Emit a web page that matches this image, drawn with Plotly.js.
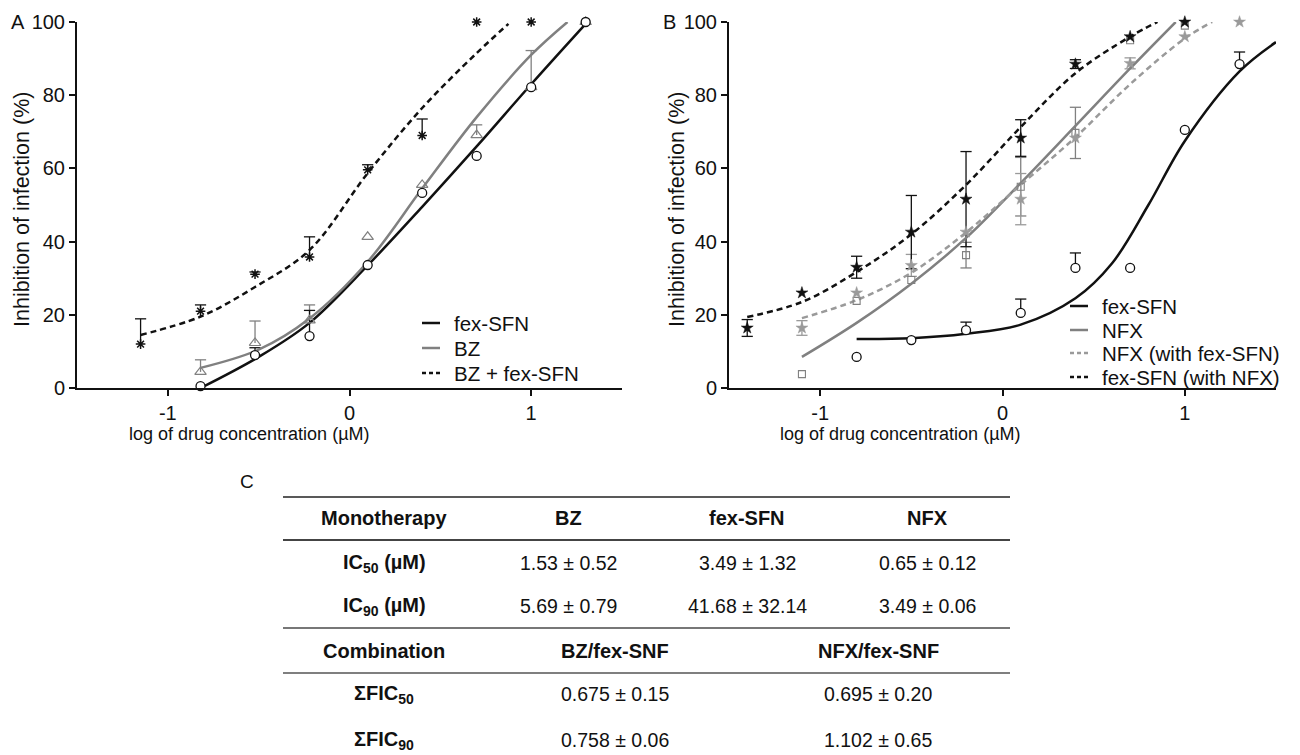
<!DOCTYPE html>
<html>
<head>
<meta charset="utf-8">
<script src="https://cdn.plot.ly/plotly-3.0.1.min.js"></script>
<style>html,body{margin:0;padding:0;background:#fff;}#chart{width:1300px;height:755px;}</style>
</head>
<body>
<div id="chart"></div>
<script>
// ---------- Panel A data ----------
const xA = [-1.15, -0.82, -0.52, -0.22, 0.1, 0.4, 0.7, 1.0, 1.3];
const fexA = [null, 0.5, 9.0, 14.2, 33.6, 53.3, 63.4, 82.2, 100];
const fexAErr = [0, 0, 2, 7, 0, 0, 0, 0, 0];
const bzA = [null, 4.4, 12.3, 18.5, 41.3, 55.5, 69.1, 82.2, 100];
const bzAErr = [0, 3.3, 6, 4.2, 0, 0, 2.8, 10, 0];
const comboA = [12.0, 21.0, 31.1, 35.8, 59.6, 69.0, 100, 100, null];
const comboAErr = [6.9, 1.7, 0.6, 5.5, 1.4, 4.5, 0, 0, 0];

// fitted curves A
const fitFexAx = [-0.82, -0.5, -0.22, 0.1, 0.4, 0.7, 1.0, 1.3];
const fitFexAy = [0, 8.5, 17.8, 33.5, 49.5, 66, 83, 99.5];
const fitBzAx = [-0.82, -0.5, -0.22, 0.1, 0.4, 0.7, 1.0, 1.2];
const fitBzAy = [5.5, 10.5, 19, 34.5, 54.5, 74, 91, 100];
const fitComboAx = [-1.15, -0.82, -0.52, -0.22, 0.1, 0.4, 0.7, 0.875];
const fitComboAy = [14.5, 19.5, 27.6, 37.7, 58.7, 76.5, 91.5, 99.5];

// ---------- Panel B data ----------
const xB = [-1.4, -1.1, -0.8, -0.5, -0.2, 0.1, 0.4, 0.7, 1.0, 1.3];
const fexB = [null, null, 8.5, 13.1, 15.8, 20.5, 32.8, 32.8, 70.5, 88.5];
const fexBErr = [0, 0, 0, 0, 2.2, 3.8, 4.1, 0, 0, 3.3];
const nfxB = [null, 3.8, 23.8, 29.5, 36.3, 55, 69.7, 95, 99, null];
const nfxBErr = [0, 0, 0, 0, 3.5, 8, 7, 0, 0, 0];
const nfxWithB = [null, 16.4, 26, 33.5, 42.6, 51.6, 68.3, 88.7, 96, 100];
const nfxWithBErr = [0, 2, 0, 3, 0, 7, 0, 1.5, 0, 0];
const fexWithB = [16.4, 26, 33, 42.6, 51.6, 68.3, 88.5, 96, 100, null];
const fexWithBErr = [2.3, 0, 3, 10, 13, 5, 1.2, 0, 0, 0];

const fitFexBx = [-0.8, -0.5, -0.2, 0.1, 0.4, 0.6, 0.8, 1.0, 1.3, 1.5];
const fitFexBy = [13.4, 13.6, 14.8, 17.3, 24.5, 34, 50, 67.5, 86.5, 94.5];
const fitNfxBx = [-1.1, -0.8, -0.5, -0.2, 0.1, 0.4, 0.7, 0.95];
const fitNfxBy = [8.5, 17.8, 28.5, 41, 56, 71.6, 87.3, 100];
const fitNfxWithBx = [-1.1, -0.8, -0.5, -0.2, 0.1, 0.4, 0.7, 1.0, 1.15];
const fitNfxWithBy = [19.1, 24, 31.5, 42.5, 55.5, 68.5, 83, 95.5, 100];
const fitFexWithBx = [-1.4, -1.1, -0.8, -0.5, -0.2, 0.1, 0.4, 0.7, 0.85];
const fitFexWithBy = [19.4, 23.5, 31.7, 42, 55.5, 71.3, 86, 96, 100];

// ---------- Text ----------
const legendA = ['fex-SFN', 'BZ', 'BZ + fex-SFN'];
const legendB = ['fex-SFN', 'NFX', 'NFX (with fex-SFN)', 'fex-SFN (with NFX)'];
const xTickVals = [-1, 0, 1];
const xTitle = 'log of drug concentration (µM)';
const yTitle = 'Inhibition of infection (%)';
const panelLabels = ['A', 'B', 'C'];

const monoHeader = ['Monotherapy', 'BZ', 'fex-SFN', 'NFX'];
const monoRows = [
  ['IC<sub>50</sub> (µM)', '1.53 ± 0.52', '3.49 ± 1.32', '0.65 ± 0.12'],
  ['IC<sub>90</sub> (µM)', '5.69 ± 0.79', '41.68 ± 32.14', '3.49 ± 0.06']
];
const comboHeader = ['Combination', 'BZ/fex-SNF', 'NFX/fex-SNF'];
const comboRows = [
  ['ΣFIC<sub>50</sub>', '0.675 ± 0.15', '0.695 ± 0.20'],
  ['ΣFIC<sub>90</sub>', '0.758 ± 0.06', '1.102 ± 0.65']
];

// ---------- helpers ----------
const W = 1300, H = 755;
const px = v => v / W;
const py = v => 1 - v / H;
const FONT = 'Liberation Sans, Arial, Helvetica, sans-serif';
const BLACK = '#111111';
const GRAY = '#808080';
const LGRAY = '#9a9a9a';

function curve(x, y, color, dash, xa, ya) {
  return {x: x, y: y, type: 'scatter', mode: 'lines', showlegend: false,
    line: {color: color, width: 2.5, dash: dash, shape: 'spline', smoothing: 1},
    xaxis: xa, yaxis: ya, cliponaxis: false, hoverinfo: 'skip'};
}
function pts(x, y, sym, size, color, fill, xa, ya, lw) {
  return {x: x, y: y, type: 'scatter', mode: 'markers', showlegend: false,
    marker: {symbol: sym, size: size, color: fill, line: {color: color, width: lw}},
    xaxis: xa, yaxis: ya, cliponaxis: false, hoverinfo: 'skip'};
}
// error bars built from the data arrays: stem + caps
function errs(x, y, err, symmetric, color, xa, ya) {
  const sx = [], sy = [], cx = [], cy = [];
  x.forEach((xi, i) => {
    const e = err[i];
    if (y[i] == null || !e) return;
    const lo = symmetric ? y[i] - e : y[i];
    sx.push(xi, xi, null); sy.push(lo, y[i] + e, null);
    cx.push(xi); cy.push(y[i] + e);
    if (symmetric) { cx.push(xi); cy.push(y[i] - e); }
  });
  return [
    {x: sx, y: sy, type: 'scatter', mode: 'lines', showlegend: false, line: {color: color, width: 1.3},
      xaxis: xa, yaxis: ya, cliponaxis: false, hoverinfo: 'skip', connectgaps: false},
    {x: cx, y: cy, type: 'scatter', mode: 'markers', showlegend: false,
      marker: {symbol: 'line-ew-open', size: 8, color: color, line: {color: color, width: 1.3}},
      xaxis: xa, yaxis: ya, cliponaxis: false, hoverinfo: 'skip'}
  ];
}

const traces = [].concat(
  // panel A
  errs(xA, comboA, comboAErr, false, BLACK, 'x', 'y'),
  errs(xA, bzA, bzAErr, false, GRAY, 'x', 'y'),
  errs(xA, fexA, fexAErr, false, BLACK, 'x', 'y'),
  [curve(fitFexAx, fitFexAy, BLACK, 'solid', 'x', 'y'),
   curve(fitBzAx, fitBzAy, GRAY, 'solid', 'x', 'y'),
   curve(fitComboAx, fitComboAy, BLACK, '6px,4px', 'x', 'y'),
   pts(xA, comboA, 'asterisk-open', 8, BLACK, BLACK, 'x', 'y', 1.5),
   pts(xA, bzA, 'triangle-up-open', 10, GRAY, GRAY, 'x', 'y', 1.2),
   pts(xA, fexA, 'circle', 9, BLACK, 'white', 'x', 'y', 1.3)],
  // panel B
  errs(xB, nfxB, nfxBErr, true, GRAY, 'x2', 'y2'),
  errs(xB, nfxWithB, nfxWithBErr, true, LGRAY, 'x2', 'y2'),
  errs(xB, fexWithB, fexWithBErr, true, BLACK, 'x2', 'y2'),
  errs(xB, fexB, fexBErr, false, BLACK, 'x2', 'y2'),
  [curve(fitFexBx, fitFexBy, BLACK, 'solid', 'x2', 'y2'),
   curve(fitNfxBx, fitNfxBy, GRAY, 'solid', 'x2', 'y2'),
   curve(fitNfxWithBx, fitNfxWithBy, LGRAY, '6px,4px', 'x2', 'y2'),
   curve(fitFexWithBx, fitFexWithBy, BLACK, '6px,4px', 'x2', 'y2'),
   pts(xB, nfxB, 'square-open', 7, GRAY, GRAY, 'x2', 'y2', 1.1),
   pts(xB, nfxWithB, 'star', 9, LGRAY, LGRAY, 'x2', 'y2', 0.5),
   pts(xB, fexWithB, 'star', 9, BLACK, BLACK, 'x2', 'y2', 0.5),
   pts(xB, fexB, 'circle', 9, BLACK, 'white', 'x2', 'y2', 1.3)]
);

function xax(d0, d1, anchor) {
  return {domain: [px(d0), px(d1)], range: [-1.5, 1.5], tickvals: xTickVals, ticktext: xTickVals.map(String),
    showline: true, linewidth: 2, linecolor: BLACK, ticks: 'outside', ticklen: 6, tickwidth: 2, tickcolor: BLACK,
    showgrid: false, zeroline: false, anchor: anchor, tickfont: {family: FONT, size: 20, color: BLACK}, fixedrange: true};
}
function yax(anchor) {
  return {domain: [py(388), py(22)], range: [0, 100], dtick: 20, tick0: 0,
    showline: true, linewidth: 2, linecolor: BLACK, ticks: 'outside', ticklen: 6, tickwidth: 2, tickcolor: BLACK,
    showgrid: false, zeroline: false, anchor: anchor, tickfont: {family: FONT, size: 20, color: BLACK}, fixedrange: true};
}

const ann = [];
const A = (x, y, text, size, opts) => ann.push(Object.assign({xref: 'paper', yref: 'paper', x: px(x), y: py(y),
  text: text, showarrow: false, xanchor: 'center', yanchor: 'middle',
  font: {family: FONT, size: size, color: BLACK}}, opts || {}));
const shapes = [];

// panel letters
A(18, 22, panelLabels[0], 20);
A(670, 22, panelLabels[1], 20);
A(247, 481, panelLabels[2], 19);
// axis titles
A(249, 434, xTitle, 18);
A(900, 434, xTitle, 18);
A(22, 210, yTitle, 21.5, {textangle: -90});
A(677, 210, yTitle, 21.5, {textangle: -90});

// legends (line samples + labels)
const legA = {x0: 422, x1: 440, tx: 452, ys: [323, 348, 373],
  styles: [[BLACK, 'solid'], [GRAY, 'solid'], [BLACK, '4px,3px']]};
const legB = {x0: 1070, x1: 1088, tx: 1100, ys: [306, 330, 353, 377],
  styles: [[BLACK, 'solid'], [GRAY, 'solid'], [LGRAY, '4px,3px'], [BLACK, '4px,3px']]};
[[legA, legendA], [legB, legendB]].forEach(([L, names]) => {
  names.forEach((n, i) => {
    shapes.push({type: 'line', xref: 'paper', yref: 'paper', x0: px(L.x0), x1: px(L.x1), y0: py(L.ys[i]), y1: py(L.ys[i]),
      line: {color: L.styles[i][0], width: 2.5, dash: L.styles[i][1]}});
    A(L.tx, L.ys[i], n, 20.5, {xanchor: 'left'});
  });
});

// table
const monoCols = [384, 568, 747, 928];
const comboCols = [384, 615, 878];
const rowY = [518, 563, 606, 651, 694, 740];
const VAL = 19.5;
monoHeader.forEach((t, i) => A(monoCols[i], rowY[0], '<b>' + t + '</b>', 20));
monoRows.forEach((r, j) => r.forEach((t, i) => {
  if (i === 0) A(monoCols[i], rowY[1 + j], '<b>' + t + '</b>', 20);
  else A(monoCols[i], rowY[1 + j], t, VAL);
}));
comboHeader.forEach((t, i) => A(comboCols[i], rowY[3], '<b>' + t + '</b>', 20));
comboRows.forEach((r, j) => r.forEach((t, i) => {
  if (i === 0) A(comboCols[i], rowY[4 + j], '<b>' + t + '</b>', 20);
  else A(comboCols[i], rowY[4 + j], t, VAL);
}));

const lineYs = [497, 540, 628, 673];
const lineCols = ['#222222', '#444444', '#777777', '#555555'];
const lineWs = [1.5, 2, 2, 1.5];
lineYs.forEach((y, i) => shapes.push({type: 'line', xref: 'paper', yref: 'paper',
  x0: px(283), x1: px(1010), y0: py(y), y1: py(y), line: {color: lineCols[i], width: lineWs[i]}}));

const layout = {
  width: W, height: H, margin: {l: 0, r: 0, t: 0, b: 0},
  paper_bgcolor: '#ffffff', plot_bgcolor: 'rgba(0,0,0,0)',
  font: {family: FONT, color: BLACK},
  xaxis: xax(77, 622, 'y'), yaxis: yax('x'),
  xaxis2: xax(729, 1276, 'y2'), yaxis2: yax('x2'),
  showlegend: false,
  annotations: ann, shapes: shapes
};

Plotly.newPlot('chart', traces, layout, {staticPlot: true, displayModeBar: false});
</script>
</body>
</html>
